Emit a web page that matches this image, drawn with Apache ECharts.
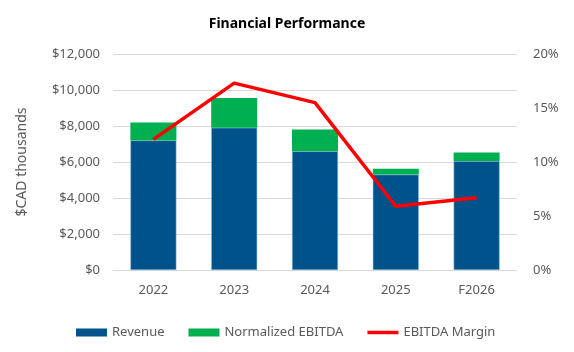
<!DOCTYPE html>
<html>
<head>
<meta charset="utf-8">
<script src="https://cdn.jsdelivr.net/npm/echarts@6/dist/echarts.min.js"></script>
<style>
  html, body { margin: 0; padding: 0; background: #fff; }
  #chart { width: 574px; height: 352px; }
</style>
</head>
<body>
<div id="chart"></div>
<script>
const years = ['2022', '2023', '2024', '2025', 'F2026']
const revenue = [7200, 7900, 6600, 5300, 6050]
const normalizedEbitda = [1000, 1650, 1200, 320, 480]
const ebitdaMargin = [12.1, 17.3, 15.5, 5.9, 6.7]

const axisText = { color: '#595959', fontSize: 13, fontFamily: 'Noto Sans' }

const chart = echarts.init(document.getElementById('chart'))

chart.setOption({
  animation: false,
  title: {
    text: 'Financial Performance',
    left: 'center',
    top: 12,
    textStyle: { fontSize: 14, fontWeight: 'bold', color: '#000', fontFamily: 'Noto Sans' }
  },
  grid: { left: 113, right: 57, top: 54, bottom: 82 },
  legend: {
    left: 71,
    top: 321,
    itemWidth: 31,
    itemHeight: 8,
    itemGap: 24,
    symbolKeepAspect: true,
    textStyle: { color: '#595959', fontSize: 13, fontFamily: 'Noto Sans' },
    data: [
      { name: 'Revenue', icon: 'rect', itemStyle: { borderWidth: 0 } },
      { name: 'Normalized EBITDA', icon: 'rect' },
      { name: 'EBITDA Margin', icon: 'path://M0,0L31,0L31,3.5L0,3.5Z', itemStyle: { color: '#FF0000' } }
    ]
  },
  xAxis: {
    type: 'category',
    data: years,
    axisLine: { lineStyle: { color: '#D9D9D9' } },
    axisTick: { show: false },
    axisLabel: { ...axisText, margin: 14 }
  },
  yAxis: [
    {
      type: 'value',
      min: 0,
      max: 12000,
      interval: 2000,
      name: '$CAD thousands',
      nameLocation: 'middle',
      nameGap: 84,
      nameTextStyle: { ...axisText, fontSize: 14 },
      axisLabel: {
        ...axisText,
        margin: 13,
        formatter: v => '$' + v.toLocaleString('en-US')
      },
      splitLine: { lineStyle: { color: '#D9D9D9' } }
    },
    {
      type: 'value',
      min: 0,
      max: 20,
      interval: 5,
      axisLabel: { ...axisText, margin: 16, formatter: '{value}%' },
      splitLine: { show: false }
    }
  ],
  series: [
    {
      name: 'Revenue',
      type: 'bar',
      stack: 'total',
      data: revenue,
      barWidth: 46,
      itemStyle: { color: '#00538A', borderColor: '#9DC3E6', borderWidth: 0.5 }
    },
    {
      name: 'Normalized EBITDA',
      type: 'bar',
      stack: 'total',
      data: normalizedEbitda,
      barWidth: 46,
      itemStyle: { color: '#00B050' }
    },
    {
      name: 'EBITDA Margin',
      type: 'line',
      yAxisIndex: 1,
      data: ebitdaMargin,
      symbol: 'none',
      lineStyle: { color: '#FF0000', width: 3.5 },
      itemStyle: { color: '#FF0000' }
    }
  ]
})
</script>
</body>
</html>
